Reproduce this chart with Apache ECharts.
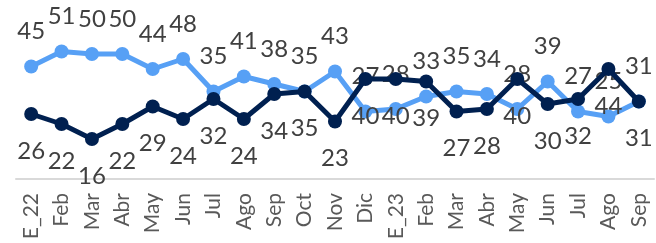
<!DOCTYPE html>
<html>
<head>
<meta charset="utf-8">
<script src="https://cdn.jsdelivr.net/npm/echarts@6/dist/echarts.min.js"></script>
<style>
  html, body { margin: 0; padding: 0; background: #fff; }
  #chart { width: 656px; height: 243px; }
</style>
</head>
<body>
<div id="chart"></div>
<script>
let months = ["E_22", "Feb", "Mar", "Abr", "May", "Jun", "Jul", "Ago", "Sep", "Oct", "Nov", "Dic",
    "E_23", "Feb", "Mar", "Abr", "May", "Jun", "Jul", "Ago", "Sep"]

// plotted values
let lightValues = [45, 51, 50, 50, 44, 48, 35, 41, 38, 35, 43, 27, 28, 33, 35, 34, 28, 39, 27, 25, 31]
let darkValues = [26, 22, 16, 22, 29, 24, 32, 24, 34, 35, 23, 40, 40, 39, 27, 28, 40, 30, 32, 44, 31]

// label text shown on each point
let lightLabels = [45, 51, 50, 50, 44, 48, 35, 41, 38, 35, 43, 27, 28, 33, 35, 34, 28, 39, 27, 25, 31]
let darkLabels = [26, 22, 16, 22, 29, 24, 32, 24, 34, 35, 23, 40, 40, 39, 27, 28, 40, 30, 32, 44, 31]

function makeSeries(values, labels, color, pos, dist, z) {
    return {
        type: "line",
        data: values,
        symbol: "circle",
        symbolSize: 14,
        lineStyle: { color: color, width: 5 },
        itemStyle: { color: color },
        label: {
            show: true,
            position: pos,
            distance: dist,
            color: "#404040",
            fontFamily: "Lato",
            fontSize: 24,
            formatter: p => labels[p.dataIndex]
        },
        z: z
    }
}

let chartDom = document.getElementById("chart");
let myChart = echarts.init(chartDom);

let option = {
    animation: false,
    grid: { left: 16, right: 2, top: 29, bottom: 64 },
    xAxis: {
        type: "category",
        data: months,
        axisLine: { lineStyle: { color: "#d9d9d9", width: 2 } },
        axisTick: { show: false },
        axisLabel: {
            rotate: 90,
            margin: 14,
            interval: 0,
            color: "#595959",
            fontFamily: "Lato",
            fontSize: 21
        }
    },
    yAxis: {
        type: "value",
        min: 0,
        max: 60,
        show: false
    },
    series: [
        makeSeries(lightValues, lightLabels, "#57A0F5", "top", 16, 2),
        makeSeries(darkValues, darkLabels, "#002050", "bottom", 18, 3)
    ]
};

myChart.setOption(option);
</script>
</body>
</html>
